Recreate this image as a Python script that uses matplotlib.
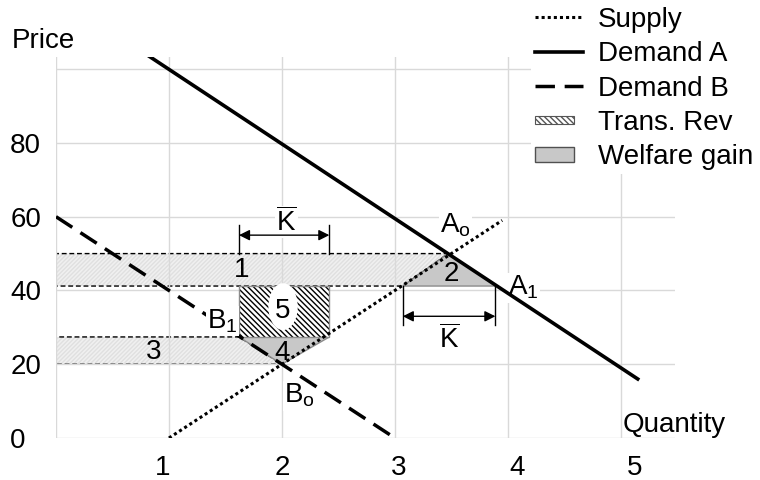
import matplotlib
matplotlib.use('Agg')
import matplotlib.pyplot as plt
from matplotlib.patches import Polygon, Rectangle, Ellipse, Patch
from matplotlib.lines import Line2D
from matplotlib.legend_handler import HandlerPatch

plt.rcParams['font.family'] = ['Liberation Sans', 'DejaVu Sans']
plt.rcParams['mathtext.fontset'] = 'custom'
plt.rcParams['mathtext.rm'] = 'Liberation Sans'
plt.rcParams['mathtext.it'] = 'Liberation Sans:italic'
plt.rcParams['hatch.linewidth'] = 1.0

# кривые
supply_q = [1.0, 3.95]
supply_p = [0, 59]
demand_a_q = [0.8, 5.15]
demand_a_p = [104, 16]
demand_b_q = [0.0, 3.0]
demand_b_p = [60, 0]

# цены: A до/после, B после/до
p_a0, p_a1, p_b1, p_b0 = 50, 41.2, 27.4, 20
# количества
q_a0 = 3.47    # Ao
q_sa1 = 3.07   # предложение A после
q_da1 = 3.89   # A1
q_db1 = 1.62   # B1
q_sb1 = 2.42   # предложение B после
q_b0 = 2.0     # Bo

x_grid = [0, 1, 2, 3, 4, 5]
y_grid = [0, 20, 40, 60, 80, 100]
x_labels = ['1', '2', '3', '4', '5']
x_label_pos = [0.94, 2.0, 3.03, 4.08, 5.12]
y_labels = ['0', '20', '40', '60', '80', '']

FS = 20
DENSE = '\\' * 6

fig = plt.figure(figsize=(7.6, 4.8), dpi=100)
ax = fig.add_axes([56 / 760, 42 / 480, 619 / 760, 381 / 480])
ax.set_xlim(0, 5.48)
ax.set_ylim(0, 103.3)
for s in ax.spines.values():
    s.set_visible(False)

ax.xaxis.remove_overlapping_locs = False
ax.set_xticks(x_grid)
ax.set_xticklabels([])
ax.set_xticks(x_label_pos, labels=x_labels, minor=True)
ax.set_yticks(y_grid, labels=y_labels)
ax.tick_params(which='both', length=0, labelsize=FS)
ax.tick_params(axis='x', which='minor', pad=12)
ax.tick_params(axis='y', pad=33)
for lab in ax.get_yticklabels():
    lab.set_horizontalalignment('left')
ax.grid(True, which='major', color='#d9d9d9', lw=1)

dash_fine = (0, (3.5, 2))

# полосы 1 и 3
band1 = [(0, p_a1), (0, p_a0), (q_a0, p_a0), (q_sa1, p_a1)]
band3 = [(0, p_b0), (0, p_b1), (q_db1, p_b1), (q_b0, p_b0)]
for pts in (band1, band3):
    ax.add_patch(Polygon(pts, closed=True, fc='#f0f0f0', ec='#e0e0e0',
                         hatch='/' * 8, lw=0, zorder=1))
    ax.add_patch(Polygon(pts, closed=True, fill=False, ec='k', lw=1,
                         ls=dash_fine, zorder=1.5))

# выигрыш в благосостоянии
tri2 = [(q_sa1, p_a1), (q_da1, p_a1), (q_a0, p_a0)]
tri4 = [(q_db1, p_b1), (q_sb1, p_b1), (q_b0, p_b0)]
for pts in (tri2, tri4):
    ax.add_patch(Polygon(pts, closed=True, fc='#c8c8c8', ec='#8c8c8c',
                         lw=1, zorder=2))

# таможенный доход
ax.add_patch(Rectangle((q_db1, p_b1), q_sb1 - q_db1, p_a1 - p_b1,
                       fc='white', ec='black', hatch=DENSE, lw=0, zorder=2))
ax.add_patch(Rectangle((q_db1, p_b1), q_sb1 - q_db1, p_a1 - p_b1,
                       fill=False, ec='#8c8c8c', lw=1, zorder=2.1))
ax.add_patch(Ellipse((2.01, 35.6), 0.26, 12.7, fc='white', ec='none', zorder=2.2))

# линии
ax.plot(supply_q, supply_p, color='k', lw=2.2, ls=(0, (1, 1)),
        dash_capstyle='butt', zorder=3)
ax.plot(demand_a_q, demand_a_p, color='k', lw=2.6, zorder=3)
ax.plot(demand_b_q, demand_b_p, color='k', lw=2.5, ls=(0, (5.6, 2.8)),
        dash_capstyle='butt', zorder=3)

# стрелки K
kbar = r'$\overline{\mathrm{K}}$'
arr = dict(arrowstyle='<|-|>', color='k', lw=1, shrinkA=0, shrinkB=0,
           mutation_scale=16)
for q in (q_db1, q_sb1):
    ax.plot([q, q], [p_a0, 57.7], color='k', lw=1, zorder=3)
ax.annotate('', xy=(q_db1, 55), xytext=(q_sb1, 55), arrowprops=arr, zorder=3)
for q in (q_sa1, q_da1):
    ax.plot([q, q], [30.6, p_a1], color='k', lw=1, zorder=3)
ax.annotate('', xy=(q_sa1, 33), xytext=(q_da1, 33), arrowprops=arr, zorder=3)

wb = dict(fc='white', ec='none', pad=1)
ax.text(2.04, 56.1, kbar, fontsize=FS, ha='center', va='baseline',
        bbox=wb, zorder=2.5)
ax.text(3.48, 24.4, kbar, fontsize=FS, ha='center', va='baseline',
        bbox=wb, zorder=2.5)

# подписи точек
ax.text(3.4, 55.6, r'A$_\mathrm{o}$', fontsize=FS, va='baseline', bbox=wb, zorder=2.5)
ax.text(4.0, 38.8, r'A$_\mathrm{1}$', fontsize=FS, va='baseline', bbox=wb, zorder=2.5)
ax.text(1.34, 29.8, r'B$_\mathrm{1}$', fontsize=FS, va='baseline', bbox=wb, zorder=4)
ax.text(2.02, 9.5, r'B$_\mathrm{o}$', fontsize=FS, va='baseline', bbox=wb, zorder=2.5)

# номера областей
for txt, q, p in [('1', 1.64, 45.5), ('2', 3.5, 44.4), ('3', 0.86, 23.3),
                  ('4', 2.0, 23.0), ('5', 2.01, 34.3)]:
    ax.text(q, p, txt, fontsize=FS, ha='center', va='center', zorder=4)

ax.text(5.02, 1.6, 'Quantity', fontsize=FS, va='baseline', zorder=4)
fig.text(12 / 760, 1 - 48 / 480, 'Price', fontsize=FS, va='baseline')


def small_box(frac_h):
    def make(legend, orig_handle, xdescent, ydescent, width, height, fontsize):
        w = width * 0.82
        h = fontsize * frac_h
        return Rectangle((-xdescent, -ydescent + (height - h) / 2), w, h)
    return make


rev_handle = Patch(fc='white', ec='#555555', hatch=DENSE, lw=0.8)
gain_handle = Patch(fc='#c8c8c8', ec='#505050', lw=1)
handles = [
    Line2D([], [], color='k', lw=2.2, ls=(0, (1, 1)), dash_capstyle='butt'),
    Line2D([], [], color='k', lw=2.6),
    Line2D([], [], color='k', lw=2.5, ls=(0, (5.6, 2.8)), dash_capstyle='butt'),
    rev_handle,
    gain_handle,
]
labels = ['Supply', 'Demand A', 'Demand B', 'Trans. Rev', 'Welfare gain']
fig.legend(handles, labels, loc='upper right', bbox_to_anchor=(1.0, 1.0),
           frameon=True, facecolor='white', edgecolor='none', framealpha=1,
           fontsize=FS, handlelength=1.7, handletextpad=0.55, labelspacing=0.3,
           borderpad=0.15, borderaxespad=0.1,
           handler_map={rev_handle: HandlerPatch(patch_func=small_box(0.3)),
                        gain_handle: HandlerPatch(patch_func=small_box(0.55))})

fig.savefig('out.png', dpi=100)
